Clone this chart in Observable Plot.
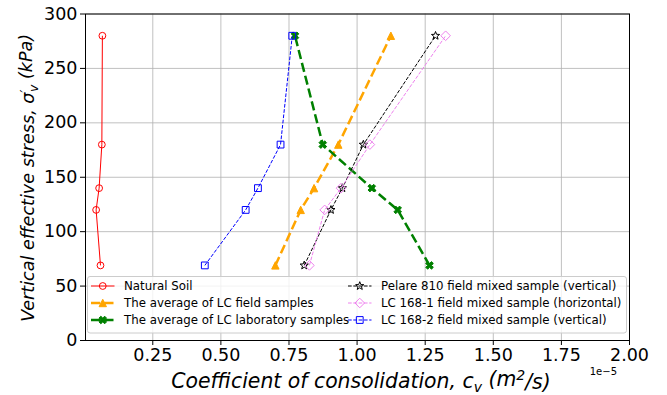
<!DOCTYPE html>
<html>
<head>
<meta charset="utf-8">
<script src="https://cdn.jsdelivr.net/npm/d3@7"></script>
<script src="https://cdn.jsdelivr.net/npm/@observablehq/plot@0.6"></script>
<style>
  html, body { margin: 0; padding: 0; background: #ffffff; }
  svg { display: block; }
</style>
</head>
<body>
<div id="chart"></div>
<script>
// Effective stress levels (kPa) at which each sample was tested
const stressLevels = [69, 120, 140, 180, 280];

// Coefficient of consolidation per series, in units of 1e-5 m²/s
const naturalSoil = [0.058, 0.042, 0.053, 0.063, 0.065];
const lcFieldAvg  = [0.700, 0.793, 0.842, 0.931, 1.124];
const lcLabAvg    = [1.266, 1.149, 1.054, 0.874, 0.772];
const pelare810   = [0.806, 0.904, 0.946, 1.023, 1.288];
const lc1681      = [0.825, 0.881, 0.941, 1.047, 1.325];
const lc1682      = [0.441, 0.591, 0.636, 0.719, 0.762];

const seriesNames = [
  "Natural Soil",
  "The average of LC field samples",
  "The average of LC laboratory samples",
  "Pelare 810 field mixed sample (vertical)",
  "LC 168-1 field mixed sample (horizontal)",
  "LC 168-2 field mixed sample (vertical)"
];
const seriesValues = [naturalSoil, lcFieldAvg, lcLabAvg, pelare810, lc1681, lc1682];

const xTicks = [0.25, 0.5, 0.75, 1.0, 1.25, 1.5, 1.75, 2.0];
const yTicks = [0, 50, 100, 150, 200, 250, 300];

// Marker shapes; "size" is an area, converted back to a marker diameter
const diam = (size) => 2 * Math.sqrt(size / Math.PI);
const squareSym = { draw(c, size) { const h = diam(size) / 2; c.moveTo(-h, -h); c.lineTo(h, -h); c.lineTo(h, h); c.lineTo(-h, h); c.closePath(); } };
const diamondSym = { draw(c, size) { const h = diam(size) / Math.SQRT2; c.moveTo(0, -h); c.lineTo(h, 0); c.lineTo(0, h); c.lineTo(-h, 0); c.closePath(); } };
const triangleSym = { draw(c, size) { const h = diam(size) / 2; c.moveTo(0, -h); c.lineTo(h, h); c.lineTo(-h, h); c.closePath(); } };
const circleSym = { draw(c, size) { const h = diam(size) / 2; c.moveTo(h, 0); c.arc(0, 0, h, 0, 2 * Math.PI); c.closePath(); } };
const starSym = { draw(c, size) {
  const R = diam(size) / 2, r = R * 0.42;
  for (let i = 0; i < 10; i++) {
    const rad = i % 2 ? r : R, a = -Math.PI / 2 + i * Math.PI / 5;
    const x = rad * Math.cos(a), y = rad * Math.sin(a);
    i ? c.lineTo(x, y) : c.moveTo(x, y);
  }
  c.closePath();
} };
const xFilledSym = { draw(c, size) {
  const s = diam(size) / 2 * 1.15, t = s / 3;
  const pts = [[t, s], [t, t], [s, t], [s, -t], [t, -t], [t, -s], [-t, -s], [-t, -t], [-s, -t], [-s, t], [-t, t], [-t, s]];
  const k = Math.SQRT1_2;
  pts.forEach(([x, y], i) => { const X = (x - y) * k, Y = (x + y) * k; i ? c.lineTo(X, Y) : c.moveTo(X, Y); });
  c.closePath();
} };

const styles = [
  { color: "red",     width: 1,   dash: null,        symbol: circleSym,   fill: "none",   r: 3.4 },
  { color: "orange",  width: 2.5, dash: "9.25,4",    symbol: triangleSym, fill: "orange", r: 3.7 },
  { color: "green",   width: 2.5, dash: "9.25,4",    symbol: xFilledSym,  fill: "green",  r: 3.5 },
  { color: "black",   width: 1,   dash: "3.7,1.6",   symbol: starSym,     fill: "none",   r: 4.3 },
  { color: "violet",  width: 1,   dash: "3.7,1.6",   symbol: diamondSym,  fill: "none",   r: 3.4 },
  { color: "blue",    width: 1,   dash: "3.7,1.6",   symbol: squareSym,   fill: "none",   r: 3.4 }
];

const rows = seriesNames.map((name, k) =>
  stressLevels.map((s, i) => ({ series: name, stress: s, cv: seriesValues[k][i] })));

const marks = [
  Plot.gridX(xTicks, { stroke: "#b0b0b0", strokeOpacity: 1, strokeWidth: 0.8 }),
  Plot.gridY(yTicks, { stroke: "#b0b0b0", strokeOpacity: 1, strokeWidth: 0.8 })
];
rows.forEach((data, k) => {
  const st = styles[k];
  marks.push(Plot.line(data, {
    x: "cv", y: "stress", stroke: st.color, strokeWidth: st.width,
    strokeDasharray: st.dash, strokeLinecap: "butt", strokeLinejoin: "round"
  }));
  marks.push(Plot.dot(data, {
    x: "cv", y: "stress", symbol: st.symbol, r: st.r,
    stroke: st.color, fill: st.fill, strokeWidth: 1
  }));
});
marks.push(
  Plot.axisX({ ticks: xTicks, tickFormat: d3.format(".2f"), tickSize: 5, tickPadding: 3, label: null }),
  Plot.axisY({ ticks: yTicks, tickSize: 5, tickPadding: 3, label: null }),
  Plot.frame({ stroke: "black", strokeWidth: 1 })
);

const W = 667, H = 395;
const M = { left: 85, right: 38, top: 13.5, bottom: 55 };

const svg = Plot.plot({
  width: W, height: H,
  marginLeft: M.left, marginRight: M.right, marginTop: M.top, marginBottom: M.bottom,
  x: { domain: [0.003, 2] },
  y: { domain: [0, 300] },
  style: { fontFamily: "DejaVu Sans", fontSize: "17.5px", color: "black", background: "white" },
  marks
});
document.getElementById("chart").append(svg);

const root = d3.select(svg);
const plotL = M.left, plotR = W - M.right, plotT = M.top, plotB = H - M.bottom;

// Axis titles
const yTitle = root.append("text")
  .attr("transform", `translate(34,${(plotT + plotB) / 2 + 1}) rotate(-90)`)
  .attr("text-anchor", "middle")
  .style("font-family", "DejaVu Sans").style("font-style", "italic").style("font-size", "17.6px")
  .attr("fill", "black");
yTitle.append("tspan").text("Vertical effective stress, σ");
yTitle.append("tspan").attr("dy", "-0.35em").style("font-size", "13px").text("′");
yTitle.append("tspan").attr("dy", "0.7em").attr("dx", "-0.2em").style("font-size", "12.5px").text("v");
yTitle.append("tspan").attr("dy", "-0.35em").text(" (kPa)");

const xTitle = root.append("text")
  .attr("x", (plotL + plotR) / 2 + 4).attr("y", 388)
  .attr("text-anchor", "middle")
  .style("font-family", "DejaVu Sans").style("font-style", "italic").style("font-size", "20.4px")
  .attr("fill", "black");
xTitle.append("tspan").text("Coefficient of consolidation, c");
xTitle.append("tspan").attr("dy", "0.25em").style("font-size", "14px").text("v");
xTitle.append("tspan").attr("dy", "-0.25em").text(" (m");
xTitle.append("tspan").attr("dy", "-0.45em").style("font-size", "14px").text("2");
xTitle.append("tspan").attr("dy", "0.45em").text("/s)");

// Scale multiplier for the x axis
root.append("text")
  .attr("x", 617).attr("y", 375).attr("text-anchor", "end")
  .style("font-family", "DejaVu Sans").style("font-size", "10px")
  .attr("fill", "black").text("1e\u22125");

// Legend stretched across the axes, two columns
const lg = root.append("g");
lg.append("rect")
  .attr("x", 87.5).attr("y", 276.5).attr("width", 539).attr("height", 56.5).attr("rx", 2.5)
  .attr("fill", "white").attr("fill-opacity", 0.8).attr("stroke", "#cccccc").attr("stroke-width", 1);
const cols = [{ x0: 91, tx: 124 }, { x0: 348, tx: 381 }];
const rowY = [286, 303, 320];
seriesNames.forEach((name, k) => {
  const st = styles[k], col = cols[Math.floor(k / 3)], y = rowY[k % 3];
  lg.append("line")
    .attr("x1", col.x0).attr("x2", col.x0 + 23.5).attr("y1", y).attr("y2", y)
    .attr("stroke", st.color).attr("stroke-width", st.width)
    .attr("stroke-dasharray", st.dash).attr("stroke-linecap", "butt");
  lg.append("path")
    .attr("transform", `translate(${col.x0 + 11.75},${y})`)
    .attr("d", d3.symbol().type(st.symbol).size(Math.PI * st.r * st.r)())
    .attr("fill", st.fill).attr("stroke", st.color).attr("stroke-width", 1);
  lg.append("text")
    .attr("x", col.tx).attr("y", y).attr("dy", "0.36em")
    .attr("text-anchor", "start")
    .style("font-family", "DejaVu Sans").style("font-size", "11.8px")
    .attr("fill", "black").text(name);
});
</script>
</body>
</html>
